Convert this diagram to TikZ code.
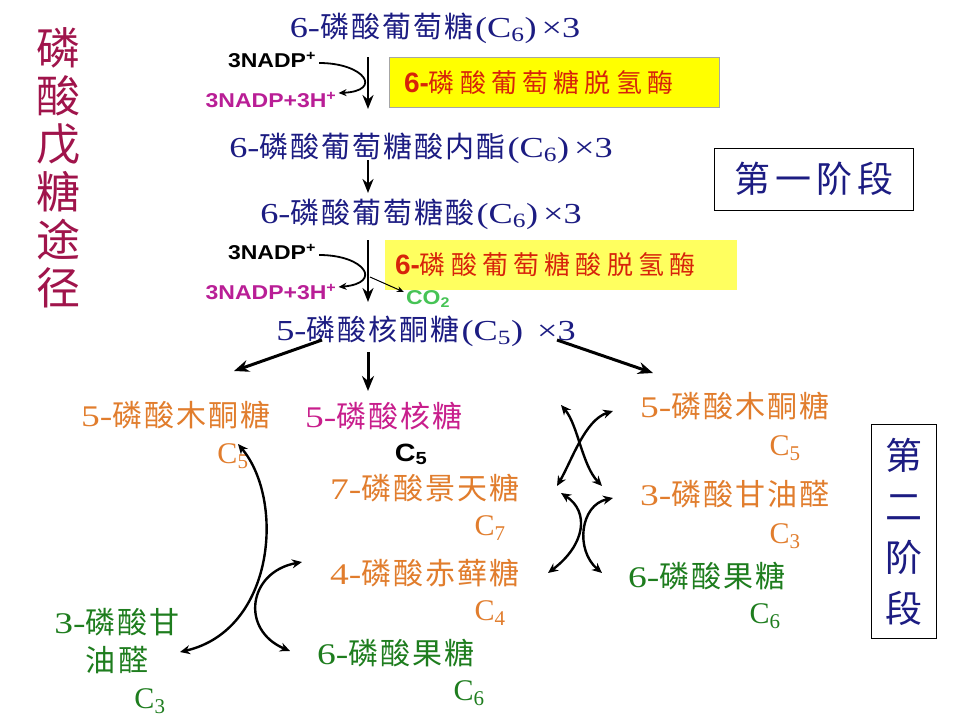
\documentclass[tikz,border=0pt]{standalone}
\usepackage{fontspec}
\setmainfont{Liberation Serif}
\newfontfamily\cjk{Noto Sans CJK SC}
\newfontfamily\cjkm[LetterSpace=7]{Noto Sans CJK SC}
\newfontfamily\cjksp[LetterSpace=20]{Noto Sans CJK SC}
\newfontfamily\cjkst[LetterSpace=14]{Noto Sans CJK SC}
\newfontfamily\arw[FakeStretch=1.15]{Liberation Sans}
\newfontfamily\ltw[FakeStretch=1.25]{Liberation Serif}
\newfontfamily\arl{Liberation Sans}
\usetikzlibrary{arrows.meta}
\definecolor{navy}{RGB}{28,28,130}
\definecolor{maroon}{RGB}{160,20,75}
\definecolor{nadpmag}{RGB}{185,30,150}
\definecolor{enzred}{RGB}{215,35,10}
\definecolor{yel}{RGB}{255,255,0}
\definecolor{yel2}{RGB}{255,255,95}
\definecolor{orng}{RGB}{225,125,45}
\definecolor{ribmag}{RGB}{200,30,140}
\definecolor{grn}{RGB}{30,125,30}
\definecolor{cogrn}{RGB}{70,195,85}
\begin{document}
\begin{tikzpicture}[x=1pt,y=-1pt,
 mainlbl/.style={text=navy,inner sep=0pt,text height=25.5pt,text depth=3.5pt,font=\fontsize{29}{32}\selectfont},
 sugar/.style={inner sep=0pt,text height=26.4pt,text depth=3.6pt,font=\fontsize{30}{33}\selectfont},
 cnum/.style={inner sep=0pt,anchor=base,font=\fontsize{30}{32}\selectfont},
 nadp/.style={inner sep=0pt,font=\arw\bfseries\fontsize{20}{22}\selectfont},
 varr/.style={-{Stealth[length=14pt,width=11pt]},line width=2.8pt},
 barr/.style={-{Stealth[length=15pt,width=12pt]},line width=3pt},
 ncurve/.style={-{Stealth[length=8pt,width=7pt]},line width=1.8pt},
 thinarr/.style={-{Stealth[length=7pt,width=6pt]},line width=1pt},
 curv/.style={{Stealth[length=10pt,width=9pt]}-{Stealth[length=10pt,width=9pt]},line width=2.4pt},
 ebox/.style={inner ysep=0pt,minimum height=50pt,align=left,text=enzred},
 stbox/.style={draw,line width=1pt,inner sep=0pt,text=navy}
]
\path[use as bounding box,fill=white] (0,0) rectangle (960,720);

% title
\node[text=maroon,inner sep=0pt,align=center,font=\cjk\fontsize{44}{48}\selectfont] (ttl) at (58,168) {磷\\酸\\戊\\糖\\途\\径};

% stage boxes
\node[stbox,minimum width=199pt,minimum height=62pt,font=\cjkst\fontsize{36}{40}\selectfont] (st1) at (814,179) {第一阶段};
\node[stbox,minimum width=65pt,minimum height=214pt,align=center,font=\cjk\fontsize{37}{51}\selectfont] (st2) at (904,531.5) {第\\二\\阶\\段};

% main chain
\node[mainlbl] (g6p) at (435,26) {\ltw 6-\cjkm 磷酸葡萄糖\ltw\hspace{2pt}(C\textsubscript{6})\hspace{5pt}×3};
\node[mainlbl] (lac) at (421,146) {\ltw 6-\cjkm 磷酸葡萄糖酸内酯\ltw\hspace{2pt}(C\textsubscript{6})\hspace{5pt}×3};
\node[mainlbl] (gla) at (421,212) {\ltw 6-\cjkm 磷酸葡萄糖酸\ltw\hspace{2pt}(C\textsubscript{6})\hspace{5pt}×3};
\node[mainlbl] (ru5p) at (426,329) {\ltw 5-\cjkm 磷酸核酮糖\ltw\hspace{2pt}(C\textsubscript{5})\hspace{14pt}×3};

% enzymes
\node[ebox,fill=yel,draw=black!35,text width=300pt,inner xsep=15pt] (enz1) at (554,82.5)
 {{\arl\bfseries\fontsize{28}{30}\selectfont 6-}{\cjksp\fontsize{26}{30}\selectfont 磷酸葡萄糖脱氢酶}};
\node[ebox,fill=yel2,text width=332pt,inner xsep=10pt] (enz2) at (561,265)
 {{\arl\bfseries\fontsize{28}{30}\selectfont 6-}{\cjksp\fontsize{26}{30}\selectfont 磷酸葡萄糖酸脱氢酶}};

% NADP labels
\node[nadp] (n1a) at (272,60) {3NADP\textsuperscript{+}};
\node[nadp,text=nadpmag] (n1b) at (271,100) {3NADP+3H\textsuperscript{+}};
\node[nadp] (n2a) at (272,252) {3NADP\textsuperscript{+}};
\node[nadp,text=nadpmag] (n2b) at (271,292) {3NADP+3H\textsuperscript{+}};
\node[inner sep=0pt,text=cogrn,font=\arw\bfseries\fontsize{20}{22}\selectfont] (co2) at (428,299) {CO\textsubscript{2}};

% arrow coordinates
\coordinate (v1s) at (368,57);  \coordinate (v1e) at (368,109);
\coordinate (v2s) at (368,160); \coordinate (v2e) at (368,193);
\coordinate (v3s) at (368,240); \coordinate (v3e) at (368,302);
\coordinate (v4s) at (368,352); \coordinate (v4e) at (368,391);
\coordinate (bls) at (322,340); \coordinate (ble) at (234,371);
\coordinate (brs) at (557,340); \coordinate (bre) at (653,373);
\coordinate (c2m) at (370,277);

\draw[varr] (v1s) -- (v1e);
\draw[varr] (v2s) -- (v2e);
\draw[varr] (v3s) -- (v3e);
\draw[barr] (v4s) -- (v4e);
\draw[barr] (bls) -- (ble);
\draw[barr] (brs) -- (bre);

\draw[ncurve] ([xshift=3pt,yshift=-3pt]n1a.east) .. controls (365,63) and (383,91) .. ([xshift=2pt,yshift=7pt]n1b.east);
\draw[ncurve] ([xshift=3pt,yshift=-3pt]n2a.east) .. controls (365,255) and (383,283) .. ([xshift=2pt,yshift=5pt]n2b.east);
\draw[thinarr] (c2m) -- ([xshift=-2pt,yshift=7pt]co2.west);

% second stage, left part
\node[sugar,text=orng] (xu5a) at (176,415) {\ltw 5-\cjkm 磷酸木酮糖};
\node[cnum,text=orng] (xu5ac) at (233,463) {C\textsubscript{5}};
\node[sugar,text=ribmag] (r5p) at (384,416) {\ltw 5-\cjkm 磷酸核糖};
\node[inner sep=0pt,anchor=base,font=\arw\bfseries\fontsize{25}{26}\selectfont] (r5pc) at (411,461) {C\textsubscript{5}};
\node[sugar,text=orng] (s7p) at (425,488) {\ltw 7-\cjkm 磷酸景天糖};
\node[cnum,text=orng] (s7pc) at (490,535) {C\textsubscript{7}};
\node[sugar,text=orng] (e4p) at (425,573) {\ltw 4-\cjkm 磷酸赤藓糖};
\node[cnum,text=orng] (e4pc) at (490,620) {C\textsubscript{4}};
\node[sugar,text=grn] (f6pa) at (396,653) {\ltw 6-\cjkm 磷酸果糖};
\node[cnum,text=grn] (f6pac) at (469,700) {C\textsubscript{6}};
\node[inner sep=0pt,align=center,text=grn,font=\fontsize{30}{38}\selectfont] (g3pa) at (117,641) {{\ltw 3-}{\cjkm 磷酸甘}\\{\cjkm 油醛}};
\node[cnum,text=grn] (g3pac) at (150,708) {C\textsubscript{3}};

% second stage, right part
\node[sugar,text=orng] (xu5b) at (735,406) {\ltw 5-\cjkm 磷酸木酮糖};
\node[cnum,text=orng] (xu5bc) at (785,455) {C\textsubscript{5}};
\node[sugar,text=orng] (g3pb) at (735,494) {\ltw 3-\cjkm 磷酸甘油醛};
\node[cnum,text=orng] (g3pbc) at (785,543) {C\textsubscript{3}};
\node[sugar,text=grn] (f6pb) at (707,576) {\ltw 6-\cjkm 磷酸果糖};
\node[cnum,text=grn] (f6pbc) at (765,623) {C\textsubscript{6}};

% left cycle
\coordinate (e1) at (238,444); \coordinate (e2) at (180,652);
\coordinate (f1) at (302,562); \coordinate (f2) at (290,651);
\draw[curv] (e1) .. controls (285,500) and (275,630) .. (e2);
\draw[curv] (f1) .. controls (248,572) and (240,630) .. (f2);

% right cycle
\coordinate (a1) at (561,405); \coordinate (a2) at (602,486);
\coordinate (b1) at (613,411); \coordinate (b2) at (557,486);
\coordinate (c1) at (561,493); \coordinate (c2) at (548,573);
\coordinate (d1) at (613,498); \coordinate (d2) at (602,573);
\draw[curv] (a1) .. controls (578,425) and (582,465) .. (a2);
\draw[curv] (b1) .. controls (585,420) and (572,460) .. (b2);
\draw[curv] (c1) .. controls (590,512) and (585,545) .. (c2);
\draw[curv] (d1) .. controls (580,505) and (575,550) .. (d2);
\end{tikzpicture}
\end{document}
